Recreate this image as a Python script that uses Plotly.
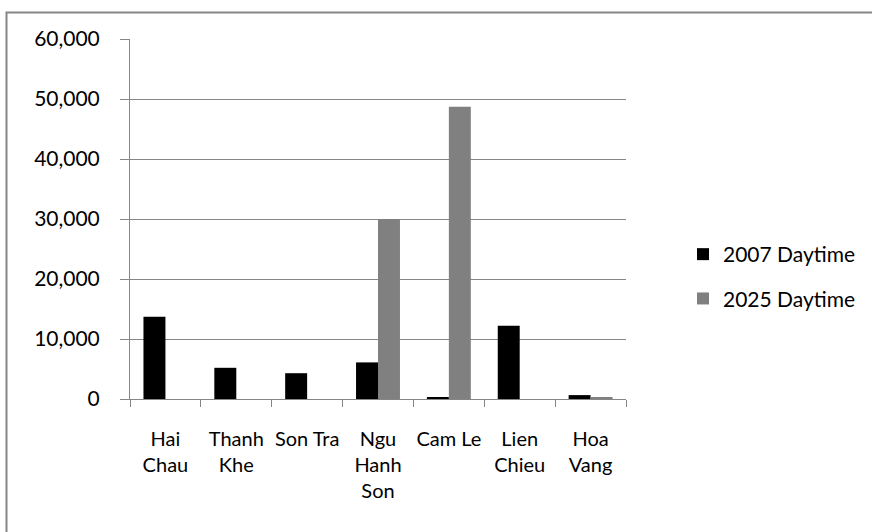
import plotly.graph_objects as go

districts = ["Hai<br>Chau", "Thanh<br>Khe", "Son Tra", "Ngu<br>Hanh<br>Son",
             "Cam Le", "Lien<br>Chieu", "Hoa<br>Vang"]
daytime_2007 = [13700, 5200, 4300, 6100, 300, 12200, 650]
daytime_2025 = [0, 0, 0, 30000, 48700, 0, 300]
y_ticks = [0, 10000, 20000, 30000, 40000, 50000, 60000]

GRID = "#868686"
FONT = "Lato"

fig = go.Figure()
fig.add_trace(go.Bar(x=districts, y=daytime_2007, name="2007 Daytime",
                     marker=dict(color="#000000", line=dict(width=0)),
                     legendgroup="a"))
fig.add_trace(go.Bar(x=districts, y=daytime_2025, name="2025 Daytime",
                     marker=dict(color="#808080", line=dict(width=0)),
                     legendgroup="b"))

L, R, T, B = 130, 246, 39, 133
W, H = 872, 532
pw, ph = W - L - R, H - T - B

fig.update_layout(
    width=W, height=H,
    margin=dict(l=L, r=R, t=T, b=B, pad=0, autoexpand=False),
    paper_bgcolor="white", plot_bgcolor="white",
    barmode="group", bargap=0.38, bargroupgap=0,
    font=dict(family=FONT, size=20, color="#000000"),
    showlegend=True,
    legend=dict(x=683 / W, xanchor="left", xref="container",
                y=1 - 276.5 / H, yanchor="middle", yref="container",
                font=dict(size=21), traceorder="grouped", tracegroupgap=14,
                itemwidth=30, bgcolor="rgba(0,0,0,0)"),
    shapes=[dict(type="rect", xref="paper", yref="paper",
                 x0=(6.5 - L) / pw, x1=(W + 20 - L) / pw,
                 y0=-(H + 20 - T - ph) / ph, y1=1 + (T - 12.5) / ph,
                 line=dict(color=GRID, width=2), layer="below")],
)
fig.update_xaxes(
    showgrid=False, showline=True, linecolor=GRID, linewidth=1,
    ticks="outside", ticklen=7, tickcolor=GRID, tickson="boundaries",
    tickangle=0, automargin=False,
    ticklabelstandoff=22, tickfont=dict(size=20),
)
fig.update_yaxes(
    range=[0, 60000], tickvals=y_ticks, tickformat=",d",
    showgrid=True, gridcolor=GRID, gridwidth=1,
    showline=True, linecolor=GRID, linewidth=1,
    ticks="outside", ticklen=9, tickcolor=GRID, automargin=False,
    ticklabelstandoff=16, tickfont=dict(size=21), zeroline=False,
)

fig.write_html("out.html")
